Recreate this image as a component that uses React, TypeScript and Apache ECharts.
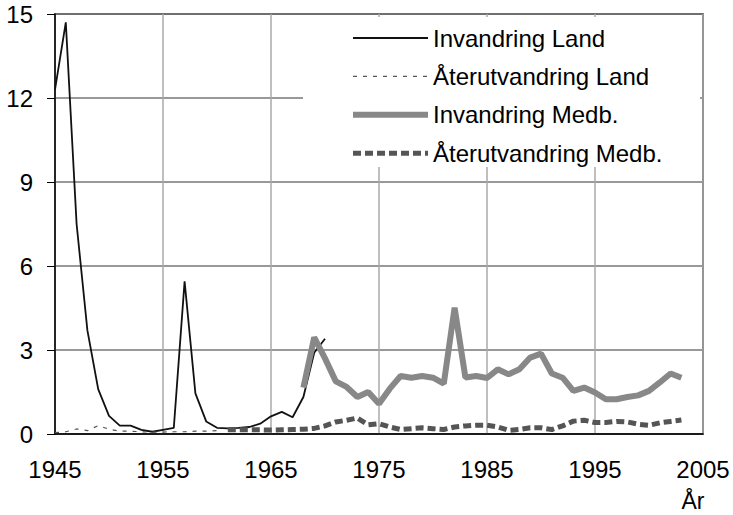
import React, { useEffect, useRef } from "react";
import * as echarts from "echarts";

const BASE_YEAR = 1945;
const xTickLabels = ["1945", "1955", "1965", "1975", "1985", "1995", "2005"];
const yTicks = [0, 3, 6, 9, 12, 15];

const invLandYears = [1945, 1946, 1947, 1948, 1949, 1950, 1951, 1952, 1953, 1954, 1955, 1956, 1957, 1958, 1959, 1960, 1961, 1962, 1963, 1964, 1965, 1966, 1967, 1968, 1969, 1970];
const invLandValues = [12.3, 14.7, 7.5, 3.7, 1.6, 0.65, 0.3, 0.3, 0.15, 0.08, 0.15, 0.22, 5.45, 1.45, 0.45, 0.22, 0.2, 0.22, 0.25, 0.37, 0.63, 0.79, 0.6, 1.32, 2.9, 3.4];

const aterLandYears = [1945, 1946, 1947, 1948, 1949, 1950, 1951, 1952, 1953, 1954, 1955, 1956, 1957, 1958, 1959, 1960];
const aterLandValues = [0.05, 0.08, 0.18, 0.12, 0.3, 0.17, 0.1, 0.1, 0.08, 0.07, 0.07, 0.08, 0.08, 0.1, 0.1, 0.12];

const invMedbYears = [1968, 1969, 1970, 1971, 1972, 1973, 1974, 1975, 1976, 1977, 1978, 1979, 1980, 1981, 1982, 1983, 1984, 1985, 1986, 1987, 1988, 1989, 1990, 1991, 1992, 1993, 1994, 1995, 1996, 1997, 1998, 1999, 2000, 2001, 2002, 2003];
const invMedbValues = [1.66, 3.45, 2.7, 1.88, 1.68, 1.32, 1.5, 1.08, 1.62, 2.07, 2.01, 2.07, 2.01, 1.8, 4.51, 2.02, 2.07, 2.0, 2.31, 2.13, 2.31, 2.73, 2.87, 2.16, 2.01, 1.54, 1.66, 1.48, 1.24, 1.24, 1.32, 1.38, 1.54, 1.84, 2.16, 2.01];

const aterMedbYears = [1961, 1962, 1963, 1964, 1965, 1966, 1967, 1968, 1969, 1970, 1971, 1972, 1973, 1974, 1975, 1976, 1977, 1978, 1979, 1980, 1981, 1982, 1983, 1984, 1985, 1986, 1987, 1988, 1989, 1990, 1991, 1992, 1993, 1994, 1995, 1996, 1997, 1998, 1999, 2000, 2001, 2002, 2003];
const aterMedbValues = [0.15, 0.15, 0.15, 0.15, 0.14, 0.15, 0.16, 0.17, 0.2, 0.29, 0.43, 0.49, 0.57, 0.33, 0.37, 0.25, 0.16, 0.19, 0.22, 0.19, 0.16, 0.25, 0.29, 0.31, 0.31, 0.25, 0.13, 0.16, 0.22, 0.22, 0.16, 0.29, 0.46, 0.49, 0.41, 0.41, 0.45, 0.43, 0.35, 0.31, 0.4, 0.45, 0.5];

const seriesNames = ["Invandring Land", "Återutvandring Land", "Invandring Medb.", "Återutvandring Medb."];

const FONT = "'Liberation Sans', Arial, Helvetica, sans-serif";

function pairs(years: number[], values: number[]) {
  return years.map((y, i) => [y - BASE_YEAR, values[i]]);
}

export default function App() {
  const ref = useRef<HTMLDivElement>(null);
  useEffect(() => {
    if (!ref.current) return;
    const chart = echarts.init(ref.current, undefined, { renderer: "svg" });
    chart.setOption({
      animation: false,
      backgroundColor: "#fff",
      textStyle: { fontFamily: FONT },
      grid: {
        left: 55,
        right: 30,
        top: 14,
        bottom: 81,
        show: true,
        borderColor: "#222",
        borderWidth: 1.5,
        backgroundColor: "transparent",
      },
      graphic: [
        {
          type: "rect",
          shape: { x: 303, y: 17, width: 397, height: 150 },
          style: { fill: "#fff" },
          z: 3,
          silent: true,
        },
        {
          type: "text",
          x: 693,
          y: 501,
          style: {
            text: "År",
            fontSize: 23,
            fontFamily: FONT,
            fill: "#000",
            textAlign: "center",
            textVerticalAlign: "middle",
          },
        },
      ],
      legend: {
        orient: "vertical",
        left: 350,
        top: 26,
        padding: 0,
        itemWidth: 75,
        itemHeight: 14,
        itemGap: 14.4,
        z: 5,
        data: seriesNames,
        itemStyle: { opacity: 0, borderWidth: 0 },
        lineStyle: { width: "inherit", type: "inherit", color: "inherit" },
        textStyle: { fontSize: 24, lineHeight: 24, color: "#000", fontFamily: FONT },
      },
      xAxis: {
        type: "value",
        min: 0,
        max: 60,
        interval: 10,
        axisLine: { show: true, lineStyle: { color: "#000", width: 1.5 } },
        axisTick: { show: false },
        splitLine: { show: true, lineStyle: { color: "#aaa", width: 1.5 } },
        axisLabel: {
          fontSize: 24,
          color: "#000",
          margin: 23,
          fontFamily: FONT,
          formatter: (v: number) => xTickLabels[Math.round(v / 10)] ?? String(v + BASE_YEAR),
        },
      },
      yAxis: {
        type: "value",
        min: yTicks[0],
        max: yTicks[yTicks.length - 1],
        interval: 3,
        axisLine: { show: true, lineStyle: { color: "#000", width: 1.5 } },
        axisTick: { show: true, inside: false, length: 8, lineStyle: { color: "#000" } },
        splitLine: { show: true, lineStyle: { color: "#777", width: 1.5 } },
        axisLabel: { fontSize: 24, color: "#000", margin: 22, fontFamily: FONT },
      },
      series: [
        {
          name: seriesNames[0],
          type: "line",
          data: pairs(invLandYears, invLandValues),
          showSymbol: false,
          symbol: "none",
          lineStyle: { color: "#111", width: 1.8, type: "solid" },
          itemStyle: { color: "#111" },
          z: 2,
        },
        {
          name: seriesNames[1],
          type: "line",
          data: pairs(aterLandYears, aterLandValues),
          showSymbol: false,
          symbol: "none",
          lineStyle: { color: "#555", width: 1.2, type: [4, 6] },
          itemStyle: { color: "#555" },
          z: 2,
        },
        {
          name: seriesNames[2],
          type: "line",
          data: pairs(invMedbYears, invMedbValues),
          showSymbol: false,
          symbol: "none",
          lineStyle: { color: "#888", width: 6, type: "solid" },
          itemStyle: { color: "#888" },
          z: 3,
        },
        {
          name: seriesNames[3],
          type: "line",
          data: pairs(aterMedbYears, aterMedbValues),
          showSymbol: false,
          symbol: "none",
          lineStyle: { color: "#555", width: 5, type: [8, 4] },
          itemStyle: { color: "#555" },
          z: 3,
        },
      ],
    });
    return () => chart.dispose();
  }, []);
  return (
    <div
      ref={ref}
      style={{ position: "fixed", left: 0, top: 0, width: 733, height: 515, background: "#fff" }}
    />
  );
}
